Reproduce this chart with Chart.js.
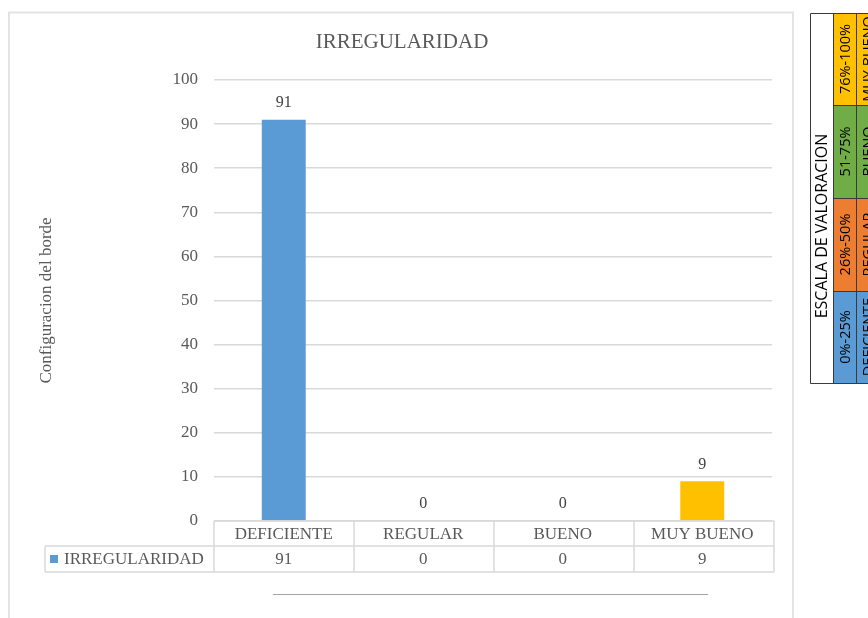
<!DOCTYPE html>
<html>
<head>
<meta charset="utf-8">
<script src="https://cdn.jsdelivr.net/npm/chart.js@4.4.1/dist/chart.umd.min.js"></script>
<style>
  html, body { margin: 0; padding: 0; background: #fff; }
  #wrap { position: relative; width: 868px; height: 618px; }
</style>
</head>
<body>
<div id="wrap"><canvas id="chart" width="868" height="618"></canvas></div>
<script>
// ---- data ----
const categories = ['DEFICIENTE', 'REGULAR', 'BUENO', 'MUY BUENO'];
const values     = [91, 0, 0, 9];
const barColors  = ['#5B9BD5', '#ED7D31', '#A5A5A5', '#FFC000'];
const seriesName = 'IRREGULARIDAD';
const chartTitle = 'IRREGULARIDAD';
const yTitle     = 'Configuracion del borde';

// escala de valoracion (tabla lateral)
const scaleTitle  = 'ESCALA DE VALORACION';
const scaleRanges = ['76%-100%', '51-75%', '26%-50%', '0%-25%'];
const scaleNames  = ['MUY BUENO', 'BUENO', 'REGULAR', 'DEFICIENTE'];
const scaleColors = ['#FFC000', '#70AD47', '#ED7D31', '#5B9BD5'];

const SERIF = '"Liberation Serif", "Times New Roman", serif';
const GRAY  = '#595959';
const LINE  = '#d9d9d9';

// frame + background
const framePlugin = {
  id: 'frame',
  beforeDraw(chart) {
    const c = chart.ctx;
    c.save();
    c.fillStyle = '#fff';
    c.fillRect(0, 0, chart.width, chart.height);
    c.strokeStyle = '#e3e3e3';
    c.lineWidth = 2;
    c.beginPath();
    c.moveTo(9, 640); c.lineTo(9, 12.5); c.lineTo(793, 12.5); c.lineTo(793, 640);
    c.stroke();
    c.restore();
  }
};

// value labels above bars
const labelsPlugin = {
  id: 'valueLabels',
  afterDatasetsDraw(chart) {
    const c = chart.ctx;
    const meta = chart.getDatasetMeta(0);
    c.save();
    c.font = '16px ' + SERIF;
    c.fillStyle = '#404040';
    c.textAlign = 'center';
    c.textBaseline = 'bottom';
    meta.data.forEach((bar, i) => {
      c.fillText(String(values[i]), bar.x, bar.y - 9);
    });
    c.restore();
  }
};

// title, y axis title, data table, bottom rule, escala table
const extrasPlugin = {
  id: 'extras',
  afterDraw(chart) {
    const c = chart.ctx;
    const a = chart.chartArea;
    const x = chart.scales.x;
    const left = a.left, right = a.right + 2;
    const top = a.bottom, mid = top + 25, bot = top + 51;
    const legendLeft = 45;

    c.save();
    c.font = '21px ' + SERIF;
    c.fillStyle = GRAY;
    c.textAlign = 'center';
    c.textBaseline = 'middle';
    c.fillText(chartTitle, 402, 42);

    // axis title
    c.translate(47, (a.top + a.bottom) / 2);
    c.rotate(-Math.PI / 2);
    c.font = '17px ' + SERIF;
    c.fillText(yTitle, 0, 0);
    c.restore();

    // data table
    c.save();
    c.strokeStyle = LINE;
    c.lineWidth = 1.5;
    c.beginPath();
    c.moveTo(left, top); c.lineTo(right, top);
    c.moveTo(legendLeft, mid); c.lineTo(right, mid);
    c.moveTo(legendLeft, bot); c.lineTo(right, bot);
    c.moveTo(legendLeft, mid); c.lineTo(legendLeft, bot);
    const step = (right - left) / categories.length;
    for (let i = 0; i <= categories.length; i++) {
      const xx = left + i * step;
      c.moveTo(xx, top); c.lineTo(xx, bot);
    }
    c.stroke();

    c.font = '17px ' + SERIF;
    c.fillStyle = GRAY;
    c.textAlign = 'center';
    c.textBaseline = 'middle';
    categories.forEach((cat, i) => {
      const cx = x.getPixelForValue(i);
      c.fillText(cat, cx, (top + mid) / 2 + 1);
      c.fillText(String(values[i]), cx, (mid + bot) / 2 + 1);
    });
    c.fillStyle = barColors[0];
    c.fillRect(50, (mid + bot) / 2 - 4, 8, 8);
    c.fillStyle = GRAY;
    c.textAlign = 'left';
    c.fillText(seriesName, 64, (mid + bot) / 2 + 1);

    // rule of underscores under the chart
    c.font = '15px ' + SERIF;
    c.fillStyle = '#8a8a8a';
    c.textAlign = 'left';
    c.textBaseline = 'alphabetic';
    const uw = c.measureText('_').width;
    c.fillText('_'.repeat(Math.round(436 / uw)), 273, 593);
    c.restore();

    // escala de valoracion table (right side, cut at the edge)
    const tx = 810, tTop = 13, tBot = 383;
    const cols = [tx, 833, 856, 880];
    const rows = [tTop, 105, 198, 291, tBot];
    c.save();
    for (let r = 0; r < 4; r++) {
      c.fillStyle = scaleColors[r];
      c.fillRect(cols[1], rows[r], cols[3] - cols[1], rows[r + 1] - rows[r]);
    }
    c.strokeStyle = '#3a3a3a';
    c.lineWidth = 1;
    c.beginPath();
    c.rect(tx + 0.5, tTop + 0.5, 80, tBot - tTop);
    c.moveTo(cols[1] + 0.5, tTop); c.lineTo(cols[1] + 0.5, tBot);
    c.moveTo(cols[2] + 0.5, tTop); c.lineTo(cols[2] + 0.5, tBot);
    for (let r = 1; r < 4; r++) {
      c.moveTo(cols[1], rows[r] + 0.5); c.lineTo(880, rows[r] + 0.5);
    }
    c.stroke();

    c.fillStyle = '#000';
    c.textAlign = 'center';
    c.textBaseline = 'middle';
    const rot = (txt, px, py) => {
      c.save();
      c.translate(px, py);
      c.rotate(-Math.PI / 2);
      c.fillText(txt, 0, 0);
      c.restore();
    };
    c.font = '16px "Open Sans", "Liberation Sans", sans-serif';
    rot(scaleTitle, 822, 226);
    c.font = '14.5px "Open Sans", "Liberation Sans", sans-serif';
    for (let r = 0; r < 4; r++) {
      const cy = (rows[r] + rows[r + 1]) / 2;
      rot(scaleRanges[r], 845.5, cy);
      rot(scaleNames[r], 869, cy);
    }
    c.restore();
  }
};

new Chart(document.getElementById('chart'), {
  type: 'bar',
  data: {
    labels: categories,
    datasets: [{
      label: seriesName,
      data: values,
      backgroundColor: barColors,
      borderWidth: 0,
      categoryPercentage: 1,
      barPercentage: 0.315
    }]
  },
  options: {
    responsive: false,
    animation: false,
    devicePixelRatio: 1,
    layout: { padding: { left: 0, top: 80, right: 96, bottom: 97 } },
    plugins: {
      legend: { display: false },
      tooltip: { enabled: false },
      title: { display: false }
    },
    scales: {
      x: { display: false },
      y: {
        min: 0, max: 100,
        ticks: { stepSize: 10, color: GRAY, padding: 16, font: { family: SERIF, size: 17 } },
        grid: { color: LINE, lineWidth: 1.5, drawTicks: false },
        border: { display: false },
        afterFit(scale) { scale.width = 214; }
      }
    }
  },
  plugins: [framePlugin, labelsPlugin, extrasPlugin]
});
</script>
</body>
</html>
